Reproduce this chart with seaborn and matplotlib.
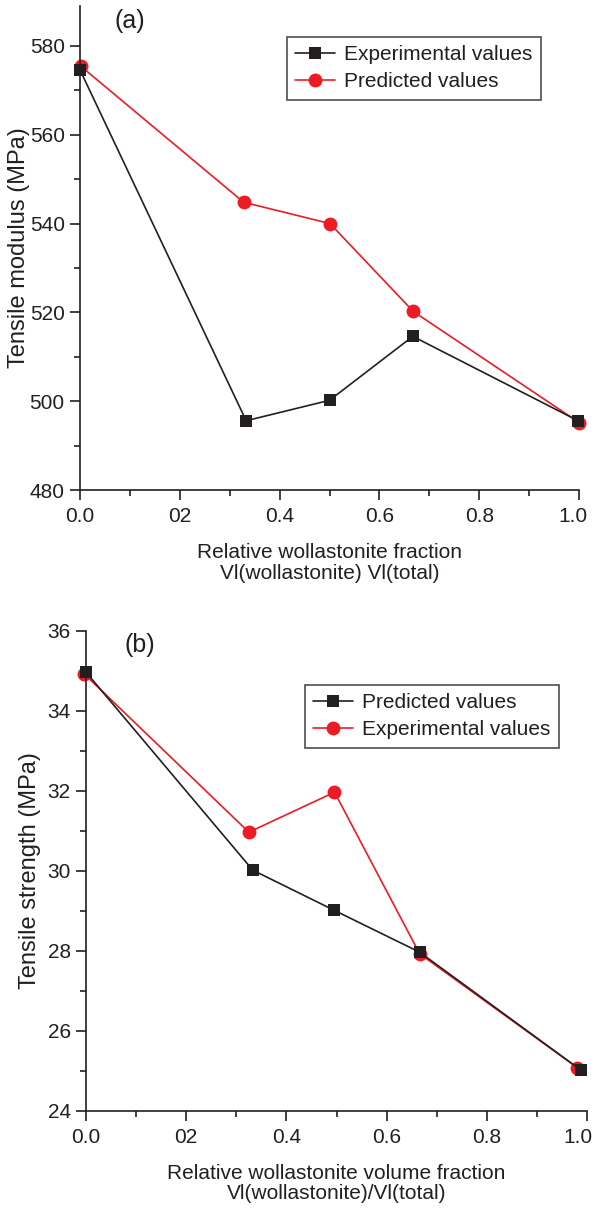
import matplotlib
matplotlib.use("Agg")
import matplotlib.pyplot as plt
from matplotlib.ticker import MultipleLocator, FixedLocator
from matplotlib.transforms import ScaledTranslation
import seaborn as sns
import numpy as np

# ---- data ----
frac_a = [0.0, 0.333, 0.5, 0.667, 0.998]
modulus_exp = [574.6, 495.6, 500.2, 514.6, 495.6]
frac_a_pred = [0.002, 0.328, 0.501, 0.668, 1.0]
modulus_pred = [575.4, 544.8, 540.0, 520.2, 495.2]

frac_b = [0.0, 0.333, 0.495, 0.666, 0.988]
strength_pred = [34.97, 30.02, 29.02, 27.97, 25.02]
frac_b_exp = [-0.003, 0.325, 0.496, 0.666, 0.981]
strength_exp = [34.92, 30.97, 31.97, 27.93, 25.08]

xtick_vals = [0.0, 0.2, 0.4, 0.6, 0.8, 1.0]
xtick_labels = ["0.0", "02", "0.4", "0.6", "0.8", "1.0"]

ink = "#231f20"
red = "#ed1c24"

sns.set_theme(style="ticks")
plt.rcParams["font.family"] = ["Liberation Sans", "DejaVu Sans"]
plt.rcParams.update({
    "text.color": ink, "axes.labelcolor": ink, "xtick.color": ink, "ytick.color": ink,
    "axes.edgecolor": ink, "axes.linewidth": 1.2,
    "xtick.major.width": 1.2, "ytick.major.width": 1.2,
    "xtick.minor.width": 1.2, "ytick.minor.width": 1.2,
    "xtick.major.size": 7, "ytick.major.size": 7,
    "xtick.minor.size": 4.5, "ytick.minor.size": 4.5,
    "xtick.direction": "out", "ytick.direction": "out",
})

fig = plt.figure(figsize=(5.96, 12.10), dpi=100)
ax1 = fig.add_axes([80/596, 1-490/1210, 499/596, 484/1210])
ax2 = fig.add_axes([86/596, 1-1111/1210, 501/596, 480/1210])

lw = 1.2
tick_fs = 15
lab_fs = 15
ylab_fs = 17
leg_fs = 15

# ---- panel a ----
sns.lineplot(x=frac_a, y=modulus_exp, ax=ax1, color=ink, lw=lw, marker="s",
             markersize=8.8, markeredgewidth=0, label="Experimental values", zorder=3)
sns.lineplot(x=frac_a_pred, y=modulus_pred, ax=ax1, color=red, lw=lw, marker="o",
             markersize=10, markeredgewidth=0, label="Predicted values", zorder=2)
ax1.set_xlim(0, 1.0)
ax1.set_ylim(480, 589)
ax1.yaxis.set_major_locator(FixedLocator([480, 500, 520, 540, 560, 580]))
ax1.yaxis.set_minor_locator(MultipleLocator(10))
ax1.set_ylabel("Tensile modulus (MPa)", fontsize=ylab_fs)
ax1.yaxis.set_label_coords(-0.1, 0.5)
ax1.set_xlabel("Relative wollastonite fraction\nVl(wollastonite) Vl(total)", fontsize=lab_fs,
               linespacing=1.12, va="center")
ax1.xaxis.set_label_coords(0.5, -0.151)
ax1.text(0.10, 0.97, "(a)", transform=ax1.transAxes, fontsize=18, ha="center", va="center")
leg1 = ax1.legend(loc="upper right", bbox_to_anchor=(0.924, 0.936), borderaxespad=0,
                  fontsize=leg_fs, frameon=True, fancybox=False, handlelength=1.9,
                  handletextpad=0.45, borderpad=0.4, labelspacing=0.38)
leg1.get_frame().set_edgecolor(ink)
leg1.get_frame().set_linewidth(1.2)

# ---- panel b ----
sns.lineplot(x=frac_b_exp, y=strength_exp, ax=ax2, color=red, lw=lw, marker="o",
             markersize=10, markeredgewidth=0, label="Experimental values", zorder=2)
sns.lineplot(x=frac_b, y=strength_pred, ax=ax2, color=ink, lw=lw, marker="s",
             markersize=8.8, markeredgewidth=0, label="Predicted values", zorder=3)
ax2.set_xlim(0, 1.0)
ax2.set_ylim(24, 36)
ax2.yaxis.set_major_locator(FixedLocator([24, 26, 28, 30, 32, 34, 36]))
ax2.yaxis.set_minor_locator(MultipleLocator(1))
ax2.set_ylabel("Tensile strength (MPa)", fontsize=ylab_fs)
ax2.yaxis.set_label_coords(-0.09, 0.5)
ax2.set_xlabel("Relative wollastonite volume fraction\nVl(wollastonite)/Vl(total)", fontsize=lab_fs,
               linespacing=1.12, va="center")
ax2.xaxis.set_label_coords(0.5, -0.151)
ax2.text(0.108, 0.97, "(b)", transform=ax2.transAxes, fontsize=18, ha="center", va="center")
h, l = ax2.get_legend_handles_labels()
leg2 = ax2.legend(h[::-1], l[::-1], loc="upper right", bbox_to_anchor=(0.944, 0.8875),
                  borderaxespad=0, fontsize=leg_fs, frameon=True, fancybox=False,
                  handlelength=1.9, handletextpad=0.45, borderpad=0.4, labelspacing=0.38)
leg2.get_frame().set_edgecolor(ink)
leg2.get_frame().set_linewidth(1.2)

for ax, shift in ((ax1, -6), (ax2, -9)):
    ax.xaxis.set_major_locator(FixedLocator(xtick_vals))
    ax.set_xticklabels(xtick_labels)
    ax.xaxis.set_minor_locator(MultipleLocator(0.1))
    ax.tick_params(axis="both", which="major", labelsize=tick_fs, pad=4)
    ax.tick_params(axis="x", which="major", pad=5)
    last = ax.get_xticklabels()[-1]
    last.set_transform(last.get_transform() + ScaledTranslation(shift/100, 0, fig.dpi_scale_trans))
    for m in ax.lines:
        m.set_clip_on(False)
    sns.despine(ax=ax)

fig.savefig("out.png", dpi=100)
